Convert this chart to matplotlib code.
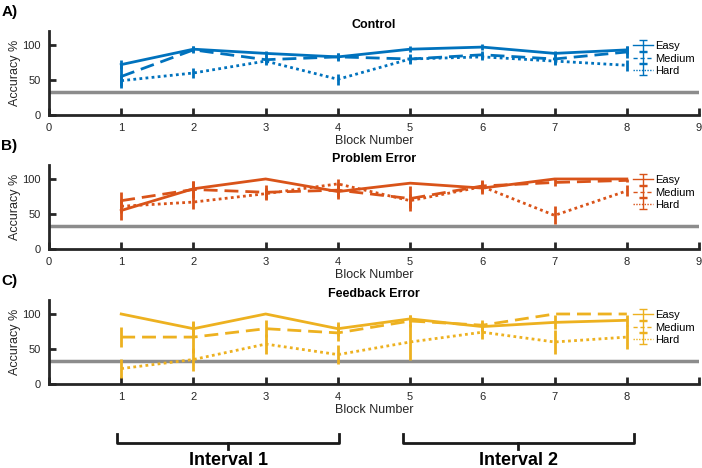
import matplotlib.pyplot as plt
import numpy as np
from matplotlib.transforms import blended_transform_factory

plt.rcParams['font.family'] = ['Liberation Sans', 'DejaVu Sans']

blocks = [1, 2, 3, 4, 5, 6, 7, 8]
levels = ['Easy', 'Medium', 'Hard']

# Control
ctrl_easy = [72, 94, 88, 83, 94, 97, 88, 93]
ctrl_med = [55, 93, 79, 83, 80, 86, 80, 90]
ctrl_hard = [49, 60, 77, 51, 80, 83, 77, 71]
ctrl_easy_err = [6, 4, 4, 6, 4, 4, 4, 6]
ctrl_med_err = [16, 5, 6, 5, 7, 6, 7, 8]
ctrl_hard_err = [8, 7, 6, 8, 6, 5, 6, 8]

# Problem Error
prob_easy = [55, 86, 100, 82, 94, 87, 100, 100]
prob_med = [69, 85, 81, 84, 72, 90, 95, 98]
prob_hard = [61, 67, 79, 93, 69, 89, 48, 83]
prob_easy_err = [14, 11, 0, 10, 0, 8, 0, 0]
prob_med_err = [12, 12, 11, 10, 18, 9, 5, 2]
prob_hard_err = [10, 10, 8, 7, 10, 8, 13, 8]

# Feedback Error
fb_easy = [100, 79, 100, 79, 93, 82, 88, 91]
fb_med = [67, 67, 79, 73, 90, 84, 100, 100]
fb_hard = [22, 35, 57, 42, 60, 74, 60, 67]
fb_easy_err = [0, 10, 0, 10, 5, 6, 10, 8]
fb_med_err = [14, 23, 12, 12, 8, 8, 0, 0]
fb_hard_err = [14, 17, 14, 14, 26, 10, 17, 17]

chance = 33.3

panels = [
    ('A)', 'Control', '#0072BD',
     [ctrl_easy, ctrl_med, ctrl_hard], [ctrl_easy_err, ctrl_med_err, ctrl_hard_err]),
    ('B)', 'Problem Error', '#D95319',
     [prob_easy, prob_med, prob_hard], [prob_easy_err, prob_med_err, prob_hard_err]),
    ('C)', 'Feedback Error', '#EDB120',
     [fb_easy, fb_med, fb_hard], [fb_easy_err, fb_med_err, fb_hard_err]),
]

styles = ['-', (0, (5, 2.5)), (0, (1, 1.2))]
leg_styles = ['-', (0, (3, 2)), (0, (1, 1))]
bottoms = [0.7543, 0.468, 0.1795]

fig = plt.figure(figsize=(7.02, 4.68), dpi=100)
axes = []
for k, (tag, title, col, ys, errs) in enumerate(panels):
    ax = fig.add_axes([0.0698, bottoms[k], 0.926, 0.1795])
    axes.append(ax)
    ax.axhline(chance, color='#8c8c8c', lw=2.5, zorder=1)
    for y, e, ls in zip(ys, errs, styles):
        ax.errorbar(blocks, y, yerr=e, color=col, ls=ls, lw=2, elinewidth=2,
                    capsize=0, zorder=3)
    # thin handles for the legend only
    handles = []
    for ls, lab in zip(leg_styles, levels):
        h = ax.errorbar([np.nan], [np.nan], yerr=[1], color=col, ls=ls, lw=1,
                        elinewidth=1, capsize=3, capthick=1, label=lab)
        handles.append(h)
    ax.set_xlim(0, 9)
    ax.set_ylim(0, 120)
    ax.set_yticks([0, 50, 100])
    ax.set_xticks(range(10))
    if k == 2:
        ax.set_xticklabels([''] + [str(i) for i in range(1, 9)] + [''])
    for s in ['top', 'right']:
        ax.spines[s].set_visible(False)
    for s in ['left', 'bottom']:
        ax.spines[s].set_linewidth(2)
        ax.spines[s].set_color('#262626')
    ax.tick_params(direction='in', length=5, width=2, color='#262626',
                   labelsize=8, labelcolor='#262626', pad=6)
    ax.set_ylabel('Accuracy %', fontsize=9, color='#262626', labelpad=1)
    ax.set_xlabel('Block Number', fontsize=9, color='#262626', labelpad=1)
    ax.set_title(title, fontsize=9, fontweight='bold', pad=1)
    ax.legend(handles=handles, loc='upper right', bbox_to_anchor=(1.0, 0.93),
              frameon=False, fontsize=8, handlelength=1.8, handletextpad=0.2,
              labelspacing=0.2, borderaxespad=0)
    fig.text(0.002, bottoms[k] + 0.1795 + 0.04, tag, fontsize=11,
             fontweight='bold', va='center')

# interval brackets under the last panel
axc = axes[2]
tr = blended_transform_factory(axc.transData, fig.transFigure)
intervals = [('Interval 1', 0.94, 4.02), ('Interval 2', 4.9, 8.1)]
for name, x0, x1 in intervals:
    mid = (x0 + x1) / 2
    axc.plot([x0, x0, x1, x1], [0.073, 0.053, 0.053, 0.073], color='#1a1a1a',
             lw=2, transform=tr, clip_on=False)
    axc.plot([mid, mid], [0.053, 0.041], color='#1a1a1a', lw=2,
             transform=tr, clip_on=False)
    axc.text(mid, 0.015, name, transform=tr, ha='center', va='center',
             fontsize=13, fontweight='bold')

plt.savefig('out.png', dpi=100)
